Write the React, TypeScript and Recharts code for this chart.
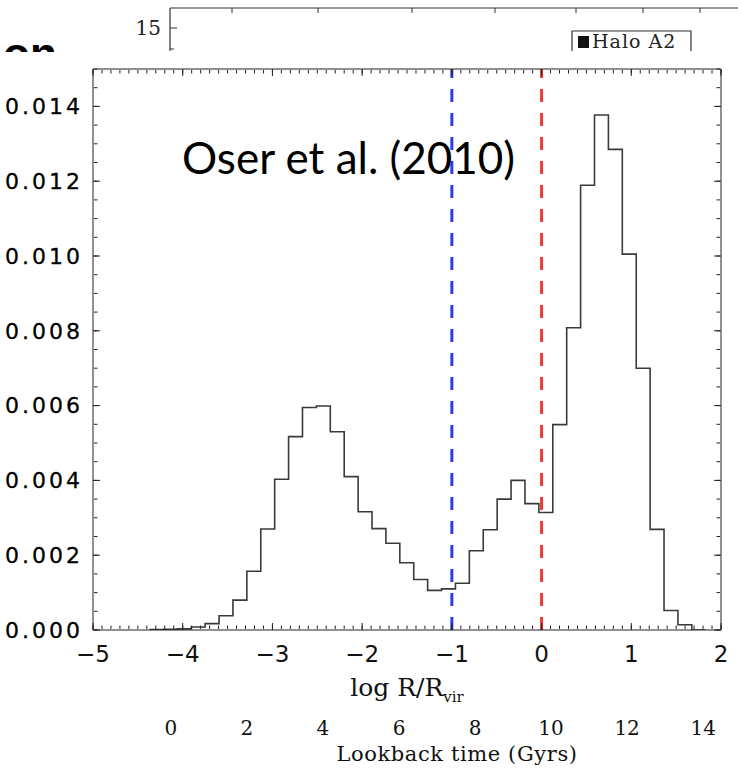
import { LineChart, Line, XAxis, YAxis, ReferenceLine } from "recharts";

// histogram bin left edges (log R/Rvir), last one closes the final bin
const EDGES = [
  -4.37, -4.215, -4.06, -3.905, -3.75, -3.595, -3.44, -3.285, -3.13, -2.975,
  -2.82, -2.665, -2.51, -2.355, -2.2, -2.045, -1.89, -1.735, -1.58, -1.425,
  -1.27, -1.115, -0.96, -0.805, -0.65, -0.495, -0.34, -0.185, -0.03, 0.125,
  0.28, 0.435, 0.59, 0.745, 0.9, 1.055, 1.21, 1.365, 1.52, 1.675, 1.83,
];
const FRACTION = [
  0.00001, 0.00002, 0.00003, 0.00008, 0.00017, 0.00038, 0.0008, 0.00157, 0.0027, 0.00403,
  0.00517, 0.00595, 0.00599, 0.0053, 0.0041, 0.00316, 0.00271, 0.00232, 0.0018, 0.00135,
  0.00106, 0.0011, 0.00125, 0.00212, 0.00268, 0.0035, 0.004, 0.00338, 0.00314, 0.00549,
  0.00808, 0.01189, 0.01377, 0.01285, 0.01005, 0.007, 0.00269, 0.00052, 0.00014, 0, 0,
];

const X_TICKS = [-5, -4, -3, -2, -1, 0, 1, 2];
const Y_TICKS = [0, 0.002, 0.004, 0.006, 0.008, 0.01, 0.012, 0.014];
const LOOKBACK_TICKS = [0, 2, 4, 6, 8, 10, 12, 14];
const MARKERS = [
  { x: -1, color: "#2f3cf0" },
  { x: 0, color: "#ec3b36" },
];

const X_MINOR = Array.from({ length: 71 }, (_, i) => +(-5 + i * 0.1).toFixed(1));
const Y_MINOR = Array.from({ length: 31 }, (_, i) => +(i * 0.0005).toFixed(4));

const data = EDGES.map((x, i) => ({ x, v: FRACTION[i] }));

const numFont = "'DejaVu Sans', sans-serif";
const serif = "'DejaVu Serif', serif";
const XDOM: [number, number] = [-5, 2];
const YDOM: [number, number] = [0, 0.015];

// tick marks only, no label
const NoLabel = () => <g />;

function XTitle(props: any) {
  const vb = props.viewBox;
  const cx = vb.x + vb.width / 2;
  return (
    <text x={cx} y={vb.y + 66} textAnchor="middle" fontFamily={serif} fontSize={25} fill="#111">
      log R/R<tspan fontSize={15} dy={6}>vir</tspan>
    </text>
  );
}

function LookbackTitle(props: any) {
  const vb = props.viewBox;
  return (
    <text x={vb.x + vb.width / 2 + 50} y={vb.y + 71} textAnchor="middle" fontFamily={serif} fontSize={21} letterSpacing={0.6} fill="#111">
      Lookback time (Gyrs)
    </text>
  );
}

function TopStrip() {
  const topTicks = [232, 318, 412, 495, 576, 643, 700];
  return (
    <svg width={738} height={60} style={{ position: "absolute", left: 0, top: 0 }}>
      <line x1={170} y1={8} x2={738} y2={8} stroke="#333" strokeWidth={1.2} />
      <line x1={170} y1={8} x2={170} y2={51} stroke="#333" strokeWidth={1.2} />
      <line x1={170} y1={28} x2={177} y2={28} stroke="#333" />
      <line x1={170} y1={49} x2={174} y2={49} stroke="#333" />
      {topTicks.map(t => (
        <line key={t} x1={t} y1={8} x2={t} y2={13} stroke="#333" />
      ))}
      <text x={161} y={35} textAnchor="end" fontFamily={serif} fontSize={20} fill="#222">15</text>
      <polyline points="572,51 572,31 691,31 691,51" fill="none" stroke="#333" strokeWidth={1.2} />
      <rect x={578} y={36} width={11} height={12} fill="#111" />
      <text x={592} y={48} fontFamily={serif} fontSize={19} letterSpacing={1} fill="#222">Halo A2</text>
    </svg>
  );
}

export default function App() {
  return (
    <div style={{ position: "absolute", left: 0, top: 0, width: 738, height: 769, background: "#fff", overflow: "hidden" }}>
      <TopStrip />
      <div style={{ position: "absolute", left: 0, top: 44, width: 80, height: 8, overflow: "hidden" }}>
        <div style={{ position: "absolute", left: 3, top: -12, fontFamily: "'Liberation Sans', sans-serif", fontWeight: 700, fontSize: 44, lineHeight: 1, color: "#000" }}>
          on
        </div>
      </div>
      <div style={{ position: "absolute", left: 0, top: 0 }}>
        <LineChart width={738} height={769} data={data} margin={{ top: 69, right: 17, bottom: 0, left: 0 }}>
          {/* inward tick marks on all four sides */}
          <XAxis xAxisId="bMaj" dataKey="x" orientation="bottom" mirror height={1} type="number" domain={XDOM} allowDataOverflow ticks={X_TICKS} interval={0} tick={NoLabel} tickSize={7} stroke="#222" />
          <XAxis xAxisId="bMin" dataKey="x" orientation="bottom" mirror height={1} type="number" domain={XDOM} allowDataOverflow ticks={X_MINOR} interval={0} tick={NoLabel} tickSize={3.5} axisLine={false} stroke="#222" />
          <XAxis xAxisId="tMaj" dataKey="x" orientation="top" mirror height={1} type="number" domain={XDOM} allowDataOverflow ticks={X_TICKS} interval={0} tick={NoLabel} tickSize={7} stroke="#222" />
          <XAxis xAxisId="tMin" dataKey="x" orientation="top" mirror height={1} type="number" domain={XDOM} allowDataOverflow ticks={X_MINOR} interval={0} tick={NoLabel} tickSize={3.5} axisLine={false} stroke="#222" />
          <YAxis yAxisId="lMaj" dataKey="v" orientation="left" mirror width={1} type="number" domain={YDOM} allowDataOverflow ticks={Y_TICKS} interval={0} tick={NoLabel} tickSize={7} stroke="#222" />
          <YAxis yAxisId="lMin" dataKey="v" orientation="left" mirror width={1} type="number" domain={YDOM} allowDataOverflow ticks={Y_MINOR} interval={0} tick={NoLabel} tickSize={3.5} axisLine={false} stroke="#222" />
          <YAxis yAxisId="rMaj" dataKey="v" orientation="right" mirror width={1} type="number" domain={YDOM} allowDataOverflow ticks={Y_TICKS} interval={0} tick={NoLabel} tickSize={7} stroke="#222" />
          <YAxis yAxisId="rMin" dataKey="v" orientation="right" mirror width={1} type="number" domain={YDOM} allowDataOverflow ticks={Y_MINOR} interval={0} tick={NoLabel} tickSize={3.5} axisLine={false} stroke="#222" />

          {/* labelled axes */}
          <XAxis
            dataKey="x" type="number" domain={XDOM} allowDataOverflow ticks={X_TICKS} interval={0}
            height={60} axisLine={false} tickLine={false} tickSize={0} tickMargin={16}
            tickFormatter={v => (v < 0 ? "\u2212" + Math.abs(v) : String(v))}
            tick={{ fontFamily: numFont, fontSize: 23, fill: "#111" }}
            label={{ content: XTitle }}
          />
          <XAxis
            xAxisId="lb" dataKey="x" type="number" domain={[-2.05, 14.47]} allowDataOverflow ticks={LOOKBACK_TICKS} interval={0}
            height={79} axisLine={false} tickLine={false} tickSize={0} tickMargin={31}
            tick={{ fontFamily: serif, fontSize: 20, fill: "#111" }}
            label={{ content: LookbackTitle }}
          />
          <YAxis
            dataKey="v" type="number" domain={YDOM} allowDataOverflow ticks={Y_TICKS} interval={0}
            width={93} axisLine={false} tickLine={false} tickSize={0} tickMargin={10}
            tickFormatter={v => v.toFixed(3)}
            tick={{ fontFamily: numFont, fontSize: 22, fill: "#000", letterSpacing: 3, stroke: "#000", strokeWidth: 0.3 }}
          />

          {MARKERS.map(m => (
            <ReferenceLine key={m.x} x={m.x} stroke={m.color} strokeWidth={3} strokeDasharray="13 11" />
          ))}
          <Line dataKey="v" type="stepAfter" stroke="#3a3a3a" strokeWidth={1.6} dot={false} isAnimationActive={false} />
        </LineChart>
      </div>
      <div style={{ position: "absolute", left: 182, top: 131, fontFamily: "Lato, 'Open Sans', sans-serif", fontSize: 44, lineHeight: 1.2, color: "#000", whiteSpace: "nowrap" }}>
        Oser et al. (2010)
      </div>
    </div>
  );
}
